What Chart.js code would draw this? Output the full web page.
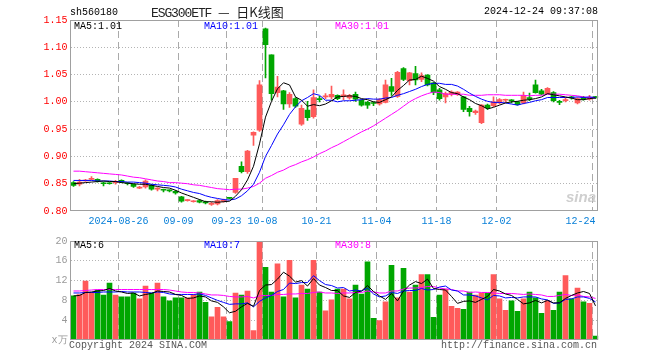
<!DOCTYPE html>
<html><head><meta charset="utf-8">
<script src="https://cdn.jsdelivr.net/npm/chart.js@4/dist/chart.umd.min.js"></script>
<style>
html,body{margin:0;padding:0;background:#fff;}
#wrap{position:relative;width:660px;height:360px;overflow:hidden;background:#fff;font-family:"Liberation Mono","DejaVu Sans Mono",monospace;}
canvas{position:absolute;left:0;}
.t{position:absolute;white-space:pre;font-size:10px;line-height:12px;}
</style></head><body>
<div id="wrap">
<canvas id="k" width="660" height="232" style="top:0"></canvas>
<canvas id="v" width="660" height="128" style="top:232px"></canvas>
<div class="t" style="left:70px;top:7px;color:#000">sh560180</div>
<div class="t" style="left:151px;top:4px;font-size:13px;line-height:16px;letter-spacing:-1.1px;color:#222">ESG300ETF <span style="font-family:'Noto Sans CJK SC';letter-spacing:0">—</span> <span style="font-family:'Noto Sans CJK SC';letter-spacing:0">日K线图</span></div>
<div class="t" style="left:484px;top:6px;color:#000">2024-12-24 09:37:08</div>
<div class="t" style="left:74px;top:21px;color:#000">MA5:1.01</div>
<div class="t" style="left:204px;top:21px;color:#0000ff">MA10:1.01</div>
<div class="t" style="left:335px;top:21px;color:#ff00ff">MA30:1.01</div>
<div class="t" style="left:74px;top:240px;color:#000">MA5:6</div>
<div class="t" style="left:204px;top:240px;color:#0000ff">MA10:7</div>
<div class="t" style="left:335px;top:240px;color:#ff00ff">MA30:8</div>
<div class="t" style="left:566px;top:188px;font:italic bold 15px 'Liberation Sans',sans-serif;color:#cfcfcf">sina</div>
<div class="t" style="left:69px;top:340px;color:#555">Copyright 2024 SINA.COM</div>
<div class="t" style="left:441px;top:340px;color:#555">http://finance.sina.com.cn</div>
</div>
<script>
const dates = [
'2024-08-14','2024-08-15','2024-08-16','2024-08-19','2024-08-20','2024-08-21','2024-08-22','2024-08-23',
'2024-08-26','2024-08-27','2024-08-28','2024-08-29','2024-08-30',
'2024-09-02','2024-09-03','2024-09-04','2024-09-05','2024-09-06','2024-09-09','2024-09-10','2024-09-11','2024-09-12','2024-09-13',
'2024-09-18','2024-09-19','2024-09-20','2024-09-23','2024-09-24','2024-09-25','2024-09-26','2024-09-27','2024-09-30',
'2024-10-08','2024-10-09','2024-10-10','2024-10-11','2024-10-14','2024-10-15','2024-10-16','2024-10-17','2024-10-18',
'2024-10-21','2024-10-22','2024-10-23','2024-10-24','2024-10-25','2024-10-28','2024-10-29','2024-10-30','2024-10-31',
'2024-11-01','2024-11-04','2024-11-05','2024-11-06','2024-11-07','2024-11-08','2024-11-11','2024-11-12','2024-11-13','2024-11-14','2024-11-15',
'2024-11-18','2024-11-19','2024-11-20','2024-11-21','2024-11-22','2024-11-25','2024-11-26','2024-11-27','2024-11-28','2024-11-29',
'2024-12-02','2024-12-03','2024-12-04','2024-12-05','2024-12-06','2024-12-09','2024-12-10','2024-12-11','2024-12-12','2024-12-13',
'2024-12-16','2024-12-17','2024-12-18','2024-12-19','2024-12-20','2024-12-23','2024-12-24'];
const tickDates = ['2024-08-26','2024-09-09','2024-09-23','2024-10-08','2024-10-21','2024-11-04','2024-11-18','2024-12-02','2024-12-24'];
const tickLabels = ['2024-08-26','09-09','09-23','10-08','10-21','11-04','11-18','12-02','12-24'];

const opens = [
0.852,0.849,0.855,0.858,0.858,0.851,0.851,0.852,0.856,0.851,
0.849,0.842,0.844,0.847,0.840,0.839,0.838,0.836,0.826,0.819,
0.817,0.819,0.817,0.812,0.813,0.818,0.824,0.834,0.882,0.872,
0.939,0.948,1.134,1.086,1.017,1.020,0.996,1.006,0.959,0.985,
0.973,1.006,1.009,1.009,1.012,1.010,1.007,1.014,1.003,0.999,
0.998,0.996,0.999,1.028,1.010,1.061,1.039,1.052,1.041,1.049,
1.035,1.022,1.009,1.014,1.013,1.009,0.988,0.980,0.962,0.994,
0.993,0.998,1.003,1.003,1.000,0.998,1.008,1.031,1.020,1.015,
1.017,1.001,1.002,1.009,0.998,1.008,1.005,1.009];
const highs = [
0.854,0.858,0.858,0.863,0.859,0.853,0.852,0.856,0.857,0.852,
0.850,0.845,0.857,0.849,0.843,0.840,0.839,0.838,0.827,0.821,
0.819,0.821,0.818,0.816,0.821,0.822,0.825,0.860,0.890,0.911,
0.945,1.039,1.135,1.086,1.047,1.021,1.017,1.008,0.994,1.001,
1.022,1.010,1.015,1.029,1.013,1.022,1.014,1.018,1.004,1.001,
1.000,1.006,1.040,1.043,1.056,1.063,1.054,1.065,1.053,1.050,
1.036,1.025,1.018,1.020,1.019,1.010,0.992,0.985,0.995,0.996,
1.009,1.006,1.005,1.004,1.001,1.018,1.016,1.040,1.023,1.026,
1.019,1.003,1.007,1.010,1.008,1.010,1.012,1.010];
const lows = [
0.845,0.846,0.854,0.857,0.853,0.846,0.849,0.849,0.852,0.848,
0.843,0.841,0.842,0.838,0.837,0.835,0.835,0.831,0.816,0.818,
0.816,0.815,0.813,0.810,0.811,0.816,0.822,0.832,0.870,0.869,
0.920,0.946,1.044,1.003,1.009,0.986,0.990,0.990,0.957,0.966,
0.970,1.000,1.006,1.006,1.004,1.004,1.005,1.001,0.992,0.988,
0.993,0.994,0.998,1.012,1.008,1.039,1.031,1.031,1.037,1.029,
1.013,1.003,0.998,1.011,1.012,0.982,0.974,0.977,0.960,0.986,
0.991,0.996,0.999,0.998,0.994,0.996,1.002,1.016,1.013,1.014,
1.000,0.995,1.000,1.005,0.996,1.003,1.003,1.006];
const closes = [
0.847,0.853,0.856,0.860,0.855,0.850,0.850,0.853,0.853,0.850,
0.845,0.843,0.855,0.840,0.841,0.838,0.837,0.833,0.818,0.820,
0.818,0.816,0.815,0.814,0.819,0.819,0.823,0.860,0.872,0.910,
0.944,1.031,1.105,1.015,1.027,0.996,1.014,0.992,0.988,0.971,
1.008,1.004,1.011,1.014,1.006,1.013,1.012,1.005,0.994,0.994,
0.997,1.004,1.031,1.019,1.054,1.041,1.053,1.040,1.048,1.031,
1.017,1.006,1.015,1.018,1.018,0.986,0.982,0.983,0.994,0.989,
1.000,1.004,1.004,1.002,0.995,1.012,1.005,1.017,1.014,1.025,
1.002,0.999,1.004,1.007,1.006,1.005,1.008,1.008];
const volumes = [
8.9,9.2,11.9,9.6,10.1,9.1,11.5,9.1,8.7,8.7,
9.5,8.3,10.9,9.5,11.5,8.7,7.9,8.5,8.5,8.5,
9.2,9.7,7.6,4.7,6.6,4.7,3.7,9.5,9.1,9.9,
1.9,19.8,14.7,9.7,15.4,8.7,16.1,8.5,11.1,10.3,
16.1,9.7,5.9,8.1,10.3,10.3,8.3,11.1,9.3,15.8,
4.4,3.9,7.7,15.1,8.5,14.5,9.7,11.1,13.2,13.2,
4.6,9.1,10.3,6.8,6.4,6.2,9.7,9.1,9.5,9.5,
13.2,8.3,6.0,7.9,5.8,8.3,9.7,8.5,5.4,7.9,
6.0,9.7,13.0,8.3,10.5,7.7,7.4,0.8];
const ma5 = [
0.850,0.851,0.852,0.853,0.854,0.855,0.854,0.854,0.852,0.851,
0.850,0.849,0.849,0.847,0.845,0.843,0.842,0.838,0.833,0.829,
0.825,0.821,0.817,0.817,0.816,0.817,0.818,0.827,0.839,0.857,
0.882,0.923,0.972,1.001,1.024,1.035,1.031,1.009,1.003,0.992,
0.995,0.993,0.996,1.002,1.009,1.010,1.011,1.010,1.006,1.004,
1.000,0.999,1.004,1.009,1.021,1.030,1.040,1.041,1.047,1.043,
1.038,1.028,1.023,1.017,1.015,1.009,1.004,0.997,0.993,0.987,
0.990,0.994,0.998,1.000,1.001,1.003,1.004,1.006,1.009,1.015,
1.013,1.011,1.009,1.007,1.004,1.004,1.006,1.007];
const ma10 = [
0.856,0.856,0.856,0.856,0.855,0.855,0.855,0.854,0.854,0.853,
0.853,0.852,0.851,0.849,0.848,0.847,0.846,0.844,0.840,0.837,
0.834,0.832,0.828,0.825,0.823,0.821,0.820,0.822,0.828,0.837,
0.849,0.871,0.900,0.920,0.941,0.958,0.977,0.991,1.002,1.008,
1.015,1.012,1.003,1.003,1.000,1.002,1.002,1.003,1.004,1.006,
1.005,1.005,1.007,1.008,1.012,1.015,1.019,1.023,1.028,1.032,
1.034,1.034,1.032,1.032,1.029,1.023,1.016,1.010,1.005,1.001,
0.999,0.999,0.998,0.996,0.994,0.997,0.999,1.002,1.004,1.008,
1.008,1.008,1.008,1.008,1.009,1.008,1.009,1.008];
const ma30 = [
0.873,0.873,0.872,0.871,0.870,0.869,0.868,0.867,0.866,0.864,
0.862,0.861,0.859,0.857,0.855,0.854,0.852,0.852,0.851,0.850,
0.848,0.847,0.845,0.843,0.841,0.840,0.839,0.840,0.840,0.842,
0.845,0.851,0.860,0.865,0.871,0.875,0.881,0.885,0.890,0.894,
0.899,0.905,0.910,0.916,0.921,0.927,0.933,0.939,0.945,0.950,
0.956,0.963,0.970,0.977,0.984,0.992,1.000,1.006,1.011,1.015,
1.018,1.017,1.014,1.014,1.014,1.014,1.012,1.012,1.012,1.013,
1.013,1.013,1.012,1.012,1.012,1.012,1.011,1.012,1.012,1.014,
1.014,1.014,1.013,1.012,1.011,1.009,1.008,1.007];
const vma5 = [
8.9,9.0,9.6,9.7,9.9,10.0,10.4,9.9,9.7,9.4,
9.5,8.9,9.2,9.4,9.9,9.8,9.7,9.2,9.0,8.4,
8.5,8.9,8.7,7.9,7.6,6.7,5.5,5.8,6.7,7.4,
6.8,10.0,11.1,11.2,12.3,13.7,12.9,11.7,12.0,10.9,
12.4,11.1,10.6,10.0,10.0,8.9,8.6,9.6,9.9,11.0,
9.8,8.9,8.2,9.4,7.9,9.9,11.1,11.8,11.4,12.3,
10.4,10.2,10.1,8.8,7.4,7.8,7.9,7.6,8.2,8.8,
10.2,9.9,9.3,9.0,8.2,7.3,7.5,8.0,7.5,8.0,
7.5,7.5,8.4,9.0,9.5,9.8,9.4,6.9];
const vma10 = [
9.5,9.5,9.6,9.6,9.6,9.7,9.7,9.7,9.8,9.7,
9.7,9.7,9.6,9.5,9.7,9.6,9.3,9.2,9.2,9.2,
9.2,9.3,9.0,8.5,8.0,7.6,7.2,7.3,7.3,7.5,
6.7,7.8,8.5,9.0,9.8,10.2,11.5,11.4,11.6,11.6,
13.0,12.0,11.2,11.0,10.5,10.6,9.9,10.1,9.9,10.5,
9.3,8.7,8.9,9.6,9.4,9.9,10.0,10.0,10.4,10.1,
10.2,10.7,10.9,10.1,9.9,9.1,9.1,8.9,8.5,8.1,
9.0,8.9,8.5,8.6,8.5,8.7,8.7,8.7,8.3,8.1,
7.4,7.5,8.2,8.3,8.7,8.7,8.4,7.7];
const vma30 = [
9.9,9.9,10.0,10.1,10.2,10.2,10.2,10.2,10.2,10.2,
10.2,10.2,10.2,10.2,10.2,10.2,10.1,9.9,9.7,9.6,
9.6,9.5,9.3,9.1,9.1,9.0,8.8,8.7,8.7,8.8,
8.5,8.9,9.0,9.0,9.2,9.2,9.3,9.3,9.4,9.4,
9.6,9.7,9.5,9.5,9.4,9.5,9.5,9.6,9.6,9.9,
9.7,9.5,9.5,9.9,9.9,10.3,10.5,10.5,10.6,10.8,
10.8,10.5,10.3,10.2,9.9,9.9,9.6,9.7,9.6,9.6,
9.5,9.4,9.4,9.4,9.3,9.2,9.3,9.2,9.1,8.8,
8.8,9.0,9.2,9.0,9.1,8.8,8.7,8.4];

const RED = '#ff5a5a', GREEN = '#00a600';
const upDown = closes.map((c, i) => c >= opens[i] ? RED : GREEN);
const FONT = {family: "'Liberation Mono','DejaVu Sans Mono',monospace", size: 10};
const XGRID = '#aaaaaa', YGRID = '#b4b4b4';

const frame = {
  id: 'frame',
  afterDraw(chart) {
    const {ctx, chartArea: a} = chart;
    const l = Math.floor(a.left) + 0.5, t = Math.floor(a.top) + 0.5;
    const r = Math.floor(a.right) - 0.5, b = Math.floor(a.bottom) - 0.5;
    ctx.save();
    ctx.strokeStyle = '#a0a0a0';
    ctx.lineWidth = 1;
    ctx.strokeRect(l, t, r - l, b - t);
    ctx.restore();
  }
};

function lineDs(data, color) {
  return {type: 'line', data, borderColor: color, borderWidth: 1, pointRadius: 0, tension: 0, fill: false, order: 0};
}
const xGridColor = ctx => tickDates.includes(dates[ctx.index]) ? XGRID : 'rgba(0,0,0,0)';

new Chart(document.getElementById('k'), {
  type: 'bar',
  data: {
    labels: dates,
    datasets: [
      lineDs(ma5, '#000000'),
      lineDs(ma10, '#0000ff'),
      lineDs(ma30, '#ff00ff'),
      {data: opens.map((o, i) => [o, closes[i]]), backgroundColor: upDown, barThickness: 5, minBarLength: 1, grouped: false, order: 1},
      {data: lows.map((l, i) => [l, highs[i]]), backgroundColor: upDown, barThickness: 1, grouped: false, order: 2}
    ]
  },
  options: {
    responsive: false, animation: false, devicePixelRatio: 1, events: [],
    layout: {padding: {left: 0, right: 61.5, top: 20, bottom: 0}},
    plugins: {legend: {display: false}, tooltip: {enabled: false}},
    scales: {
      x: {
        type: 'category', offset: true,
        grid: {offset: true, drawTicks: false, color: xGridColor, lineWidth: 1},
        border: {display: false, dash: [7, 4]},
        ticks: {
          autoSkip: false, maxRotation: 0, minRotation: 0, padding: 4, labelOffset: -3,
          color: '#0a80d8', font: FONT,
          callback: (v, i) => {
            const j = tickDates.indexOf(dates[i]);
            if (j < 0) return '';
            return j === tickLabels.length - 1 ? tickLabels[j] + '    ' : tickLabels[j];
          }
        },
        afterFit: s => { s.height = 21; }
      },
      y: {
        min: 0.8, max: 1.15,
        grid: {drawTicks: false, color: ctx => (ctx.tick && ctx.tick.value > 0.801 && ctx.tick.value < 1.149) ? YGRID : 'rgba(0,0,0,0)'},
        border: {display: false, dash: [1, 2]},
        ticks: {stepSize: 0.05, padding: 3, color: '#ff0000', font: FONT, callback: v => v.toFixed(2)},
        afterFit: s => { s.width = 70.5; }
      }
    }
  },
  plugins: [frame]
});

new Chart(document.getElementById('v'), {
  type: 'bar',
  data: {
    labels: dates,
    datasets: [
      lineDs(vma5, '#000000'),
      lineDs(vma10, '#0000ff'),
      lineDs(vma30, '#ff00ff'),
      {data: volumes, backgroundColor: upDown, barThickness: 5, order: 1}
    ]
  },
  options: {
    responsive: false, animation: false, devicePixelRatio: 1, events: [],
    layout: {padding: {left: 0, right: 61.5, top: 8, bottom: 0}},
    plugins: {legend: {display: false}, tooltip: {enabled: false}},
    scales: {
      x: {
        type: 'category', offset: true,
        grid: {offset: true, drawTicks: false, color: xGridColor, lineWidth: 1},
        border: {display: false, dash: [7, 4]},
        ticks: {display: false, autoSkip: false},
        afterFit: s => { s.height = 20; }
      },
      y: {
        min: 0, max: 20,
        grid: {drawTicks: false, color: ctx => (ctx.tick && ctx.tick.value > 0 && ctx.tick.value < 20) ? YGRID : 'rgba(0,0,0,0)'},
        border: {display: false, dash: [1, 2]},
        ticks: {stepSize: 4, padding: 3, color: '#9a9a9a', font: FONT, callback: v => v === 0 ? 'x万' : String(v)},
        afterFit: s => { s.width = 70.5; }
      }
    }
  },
  plugins: [frame]
});
</script>
</body></html>
